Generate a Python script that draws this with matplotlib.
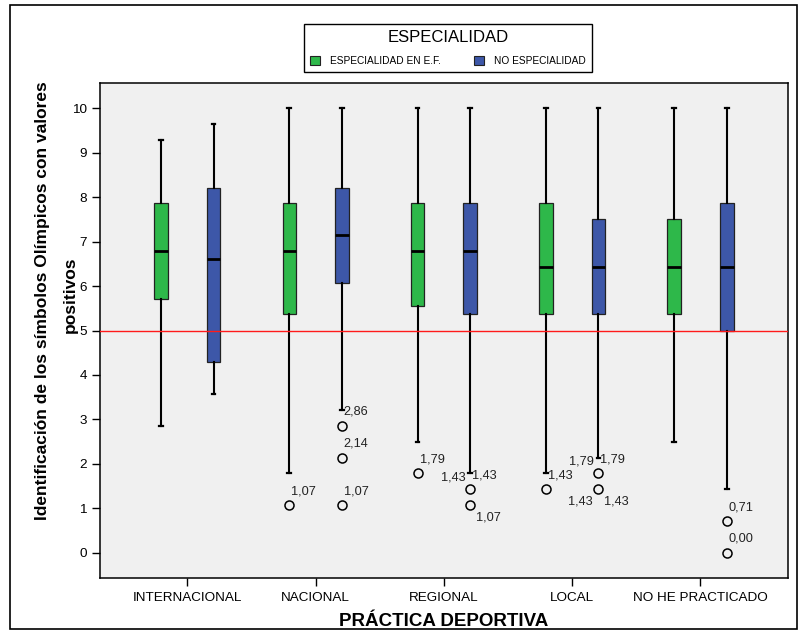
import numpy as np
import matplotlib
matplotlib.use("Agg")
import matplotlib.pyplot as plt
from matplotlib.patches import Patch, Rectangle

plt.rcParams['font.family'] = ['Liberation Sans', 'DejaVu Sans']

# Datos
categorias = ['INTERNACIONAL', 'NACIONAL', 'REGIONAL', 'LOCAL', 'NO HE PRACTICADO']
series = ['ESPECIALIDAD EN E.F.', 'NO ESPECIALIDAD']

# ESPECIALIDAD EN E.F.
esp_whislo = [2.86, 1.79, 2.50, 1.79, 2.50]
esp_q1 = [5.71, 5.36, 5.54, 5.36, 5.36]
esp_med = [6.79, 6.79, 6.79, 6.43, 6.43]
esp_q3 = [7.86, 7.86, 7.86, 7.86, 7.50]
esp_whishi = [9.29, 10.0, 10.0, 10.0, 10.0]
esp_fliers = [[], [1.07], [1.79], [1.43], []]
esp_etiq = [[], [['ur']], [['ur']], [['ur']], []]

# NO ESPECIALIDAD
noesp_whislo = [3.57, 3.21, 1.79, 2.14, 1.43]
noesp_q1 = [4.29, 6.07, 5.36, 5.36, 5.00]
noesp_med = [6.61, 7.14, 6.79, 6.43, 6.43]
noesp_q3 = [8.21, 8.21, 7.86, 7.50, 7.86]
noesp_whishi = [9.64, 10.0, 10.0, 10.0, 10.0]
noesp_fliers = [[], [2.86, 2.14, 1.07], [1.43, 1.07], [1.79, 1.43], [0.71, 0.00]]
noesp_etiq = [[], [['ur'], ['ur'], ['ur']], [['ul', 'ur'], ['lr']],
              [['ul', 'ur'], ['ll', 'lr']], [['ur'], ['ur']]]

linea_ref = 5

verde = '#2EB84A'
azul = '#3D57A8'


def hacer_stats(whislo, q1, med, q3, whishi, fliers):
    return [dict(whislo=a, q1=b, med=c, q3=d, whishi=e, fliers=f)
            for a, b, c, d, e, f in zip(whislo, q1, med, q3, whishi, fliers)]


fig = plt.figure(figsize=(8.07, 6.34), dpi=100)
ax = fig.add_axes([0.1239, 0.0888, 0.8522, 0.7798])
ax.set_facecolor('#F0F0F0')

pos = np.arange(len(categorias))
desp = 0.205

grupos = [
    (hacer_stats(esp_whislo, esp_q1, esp_med, esp_q3, esp_whishi, esp_fliers), pos - desp, verde),
    (hacer_stats(noesp_whislo, noesp_q1, noesp_med, noesp_q3, noesp_whishi, noesp_fliers), pos + desp, azul),
]
for stats, p, color in grupos:
    ax.bxp(stats, positions=p, widths=0.105, patch_artist=True, showfliers=True,
           capwidths=0.03,
           boxprops=dict(facecolor=color, edgecolor='#222222', linewidth=0.9),
           medianprops=dict(color='black', linewidth=2.0),
           whiskerprops=dict(color='black', linewidth=1.5),
           capprops=dict(color='black', linewidth=1.6),
           flierprops=dict(marker='o', markerfacecolor='none', markeredgecolor='black',
                           markersize=6.5, markeredgewidth=1.1))

# Etiquetas de los valores atípicos
offs = {'ur': (2, 14, 'left'), 'ul': (-5, 12, 'right'),
        'lr': (6, -12, 'left'), 'll': (-6, -12, 'right')}
for fliers, etiq, p in [(esp_fliers, esp_etiq, pos - desp), (noesp_fliers, noesp_etiq, pos + desp)]:
    for i in range(len(categorias)):
        for v, codigos in zip(fliers[i], etiq[i]):
            for c in codigos:
                dx, dy, ha = offs[c]
                ax.annotate(f"{v:.2f}".replace('.', ','), (p[i], v), xytext=(dx, dy),
                            textcoords='offset pixels', ha=ha, va='center',
                            fontsize=9.2, color='#222222')

ax.axhline(linea_ref, color='#FF1A1A', linewidth=1.0, zorder=5)

ax.set_xlim(-0.68, len(categorias) - 1 + 0.68)
ax.set_ylim(-0.56, 10.56)
ax.set_yticks(range(0, 11))
ax.set_xticks(pos)
ax.set_xticklabels(categorias)
ax.tick_params(axis='both', labelsize=9.7, length=6, width=1, colors='black')
ax.tick_params(axis='x', pad=4.5)
for s in ax.spines.values():
    s.set_linewidth(1.1)

ax.set_xlabel('PRÁCTICA DEPORTIVA', fontsize=13.5, fontweight='bold', labelpad=6.5)

# Título del eje Y en dos líneas
ax.text(-0.083, 0.56, 'Identificación de los símbolos Olímpicos con valores',
        transform=ax.transAxes, rotation=90, ha='center', va='center',
        fontsize=12.5, fontweight='bold')
ax.text(-0.0436, 0.573, 'positivos',
        transform=ax.transAxes, rotation=90, ha='center', va='center',
        fontsize=12.5, fontweight='bold')

handles = [Patch(facecolor=verde, edgecolor='#222222', linewidth=0.8),
           Patch(facecolor=azul, edgecolor='#222222', linewidth=0.8)]
leg = fig.legend(handles, series, loc='upper left',
                 bbox_to_anchor=(304 / 807, 1 - 71 / 634, 288 / 807, 47 / 634),
                 mode='expand', borderaxespad=0,
                 ncol=2, title='ESPECIALIDAD', title_fontsize=12, fontsize=7.3,
                 frameon=True, fancybox=False, edgecolor='black', framealpha=1,
                 handlelength=0.95, handleheight=0.95, handletextpad=1.0,
                 columnspacing=2.8, borderpad=0.6, labelspacing=1.1)
leg.get_frame().set_linewidth(1.0)

# Marco exterior
fig.patches.append(Rectangle((0.012, 0.008), 0.976, 0.984, transform=fig.transFigure,
                             fill=False, edgecolor='black', linewidth=1.2))

fig.savefig('out.png', dpi=100)
